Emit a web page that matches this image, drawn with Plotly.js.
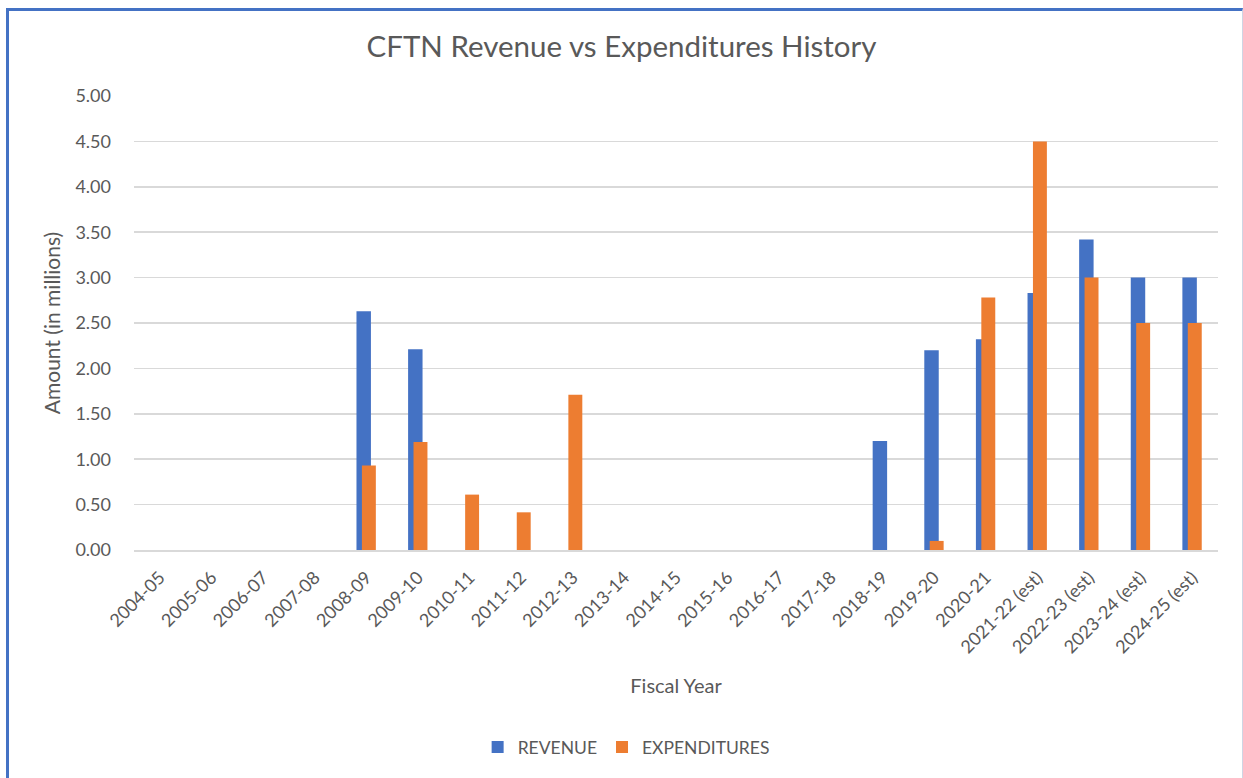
<!DOCTYPE html>
<html>
<head>
<meta charset="utf-8">
<script src="https://cdn.plot.ly/plotly-3.0.1.min.js"></script>
<style>
    body { margin: 0; background: #fff; }
    #wrap { position: relative; width: 1243px; height: 778px; }
    #frame {
        position: absolute; left: 6px; top: 8px; right: 0; bottom: -10px;
        border-top: 3px solid #4472c4; border-left: 3px solid #4472c4;
        border-right: 1px solid #cfd5e4; pointer-events: none;
    }
</style>
</head>
<body>
<div id="wrap">
    <div id="chart"></div>
    <div id="frame"></div>
</div>
<script>
const fiscalYears = [
    '2004-05', '2005-06', '2006-07', '2007-08', '2008-09', '2009-10', '2010-11',
    '2011-12', '2012-13', '2013-14', '2014-15', '2015-16', '2016-17', '2017-18',
    '2018-19', '2019-20', '2020-21', '2021-22 (est)', '2022-23 (est)',
    '2023-24 (est)', '2024-25 (est)'
];

// amounts in millions
const revenue = [
    0, 0, 0, 0, 2.63, 2.21, 0,
    0, 0, 0, 0, 0, 0, 0,
    1.20, 2.20, 2.32, 2.83, 3.42,
    3.00, 3.00
];

const expenditures = [
    0, 0, 0, 0, 0.93, 1.19, 0.61,
    0.415, 1.71, 0, 0, 0, 0, 0,
    0, 0.10, 2.78, 4.50, 3.00,
    2.50, 2.50
];

const yTicks = [0, 0.5, 1, 1.5, 2, 2.5, 3, 3.5, 4, 4.5, 5];

const fontFamily = 'Lato, "Open Sans", sans-serif';
const textGray = '#595959';
const gridGray = '#d9d9d9';

const traceRevenue = {
    x: fiscalYears,
    y: revenue,
    type: 'bar',
    name: 'REVENUE',
    offset: -0.19,
    width: 0.28,
    marker: { color: '#4472c4' },
    hoverinfo: 'x+y'
};

const traceExpenditures = {
    x: fiscalYears,
    y: expenditures,
    type: 'bar',
    name: 'EXPENDITURES',
    offset: -0.085,
    width: 0.27,
    marker: { color: '#ed7d31' },
    hoverinfo: 'x+y'
};

const layout = {
    width: 1243,
    height: 778,
    margin: { l: 134, r: 25, t: 96, b: 228 },
    paper_bgcolor: 'rgba(0,0,0,0)',
    plot_bgcolor: '#fff',
    barmode: 'overlay',
    font: { family: fontFamily, color: textGray, size: 18 },
    title: {
        text: 'CFTN Revenue vs Expenditures History',
        font: { family: fontFamily, size: 29.5, color: textGray },
        x: 0.5,
        xanchor: 'center',
        y: 0.94,
        yanchor: 'middle'
    },
    xaxis: {
        type: 'category',
        tickangle: -45,
        tickfont: { size: 18, color: textGray },
        ticklabelstandoff: 8,
        showgrid: false,
        showline: true,
        linecolor: gridGray,
        linewidth: 2,
        ticks: '',
        title: {
            text: 'Fiscal Year',
            font: { size: 20, color: textGray },
            standoff: 23
        },
        automargin: false
    },
    yaxis: {
        range: [0, 5],
        tickvals: yTicks,
        tickformat: '.2f',
        tickfont: { size: 18, color: textGray },
        ticklabelstandoff: 22,
        showgrid: true,
        gridcolor: gridGray,
        gridwidth: 1.5,
        zeroline: false,
        showline: false,
        ticks: '',
        ticklen: 0,
        title: {
            text: 'Amount (in millions)',
            font: { size: 21, color: textGray },
            standoff: 9
        },
        automargin: false
    },
    showlegend: true,
    legend: {
        orientation: 'h',
        x: 0.454,
        xanchor: 'center',
        y: -0.434,
        yanchor: 'middle',
        font: { size: 17.5, color: textGray },
        traceorder: 'normal'
    }
};

Plotly.newPlot('chart', [traceRevenue, traceExpenditures], layout, { displayModeBar: false, staticPlot: true });
</script>
</body>
</html>
